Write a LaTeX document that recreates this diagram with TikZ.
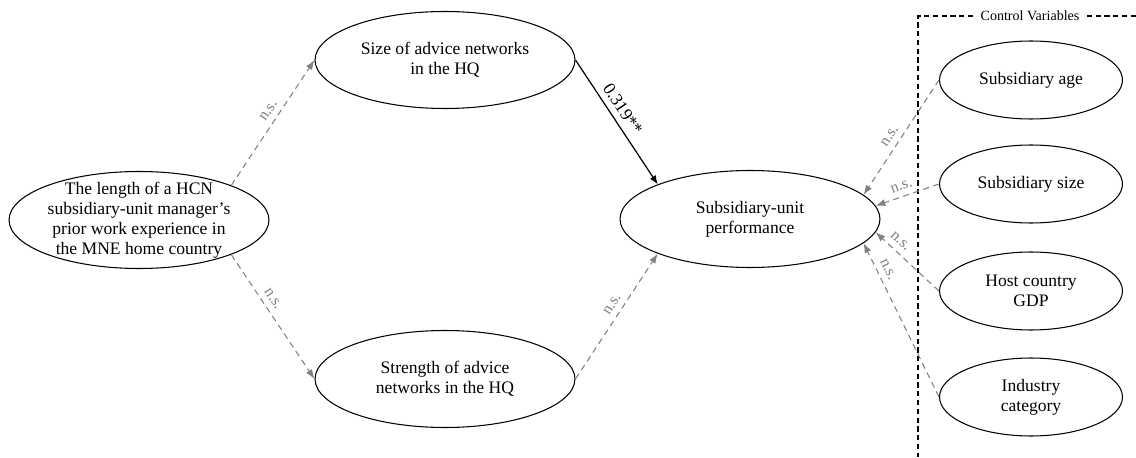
\documentclass[tikz,border=0pt]{standalone}
\usepackage{fontspec}
\setmainfont{Liberation Serif}
\usepackage{xcolor}
\usetikzlibrary{shapes.geometric,arrows.meta}
\definecolor{nsgray}{RGB}{128,128,128}
\tikzset{
    every node/.style={font=\fontsize{10}{11.4}\selectfont},
    bubble/.style={ellipse,draw,line width=0.6pt,inner sep=0pt,align=center,
        minimum width=5.2cm,minimum height=1.94cm},
    ctrlbubble/.style={bubble,minimum width=3.66cm,minimum height=1.56cm},
    nsarrow/.style={draw=nsgray,line width=0.6pt,dash pattern=on 3.5pt off 2.5pt,
        -{Latex[length=5.5pt,width=4pt]}},
    nslabel/.style={text=nsgray,sloped,above,font=\fontsize{9}{10}\selectfont},
    boxline/.style={line width=0.6pt,dash pattern=on 3pt off 2pt}
}

\begin{document}
\begin{tikzpicture}[x=0.02cm,y=0.02cm]
    \useasboundingbox (0,0) rectangle (1136,457);

    % Draw main constructs
    \node[bubble,inner ysep=-4pt] (hcn) at (139,237) {The length of a HCN\\subsidiary-unit manager’s\\prior work experience in\\the MNE home country};
    \node[bubble] (size) at (445,397) {Size of advice networks\\in the HQ};
    \node[bubble] (strength) at (445,78) {Strength of advice\\networks in the HQ};
    \node[bubble] (perf) at (750,238) {Subsidiary-unit\\performance};

    % Draw control variables
    \node[ctrlbubble] (age) at (1031,377) {Subsidiary age};
    \node[ctrlbubble] (ssize) at (1031,273) {Subsidiary size};
    \node[ctrlbubble] (gdp) at (1031,166) {Host country\\GDP};
    \node[ctrlbubble] (industry) at (1031,60) {Industry\\category};

    % Control box
    \node[font=\fontsize{8}{9}\selectfont,inner xsep=4pt] (ctrl) at (1030,441) {Control Variables};
    \draw[boxline] (ctrl.west) -- (918,441) -- (918,0);
    \draw[boxline] (ctrl.east) -- (1136,441);

    % Draw paths
    \draw[nsarrow] (hcn.north east) -- (size.west) node[nslabel,pos=0.55] {n.s.};
    \draw[nsarrow] (hcn.south east) -- (strength.west) node[nslabel,pos=0.4] {n.s.};
    \draw[nsarrow] (strength.east) -- (perf.south west) node[nslabel,pos=0.55] {n.s.};
    \draw[line width=0.7pt,-{Latex[length=5pt,width=4pt]}] (size.east) -- (perf.north west)
        node[sloped,above,pos=0.45] {0.319**};

    % Control paths
    \draw[nsarrow] (age.west) -- (perf.12) node[nslabel,pos=0.54] {n.s.};
    \draw[nsarrow] (ssize.west) -- (perf.6) node[nslabel,pos=0.54] {n.s.};
    \draw[nsarrow] (gdp.west) -- (perf.-6) node[nslabel,pos=0.72] {n.s.};
    \draw[nsarrow] (industry.west) -- (perf.-12) node[nslabel,pos=0.8] {n.s.};
\end{tikzpicture}
\end{document}
